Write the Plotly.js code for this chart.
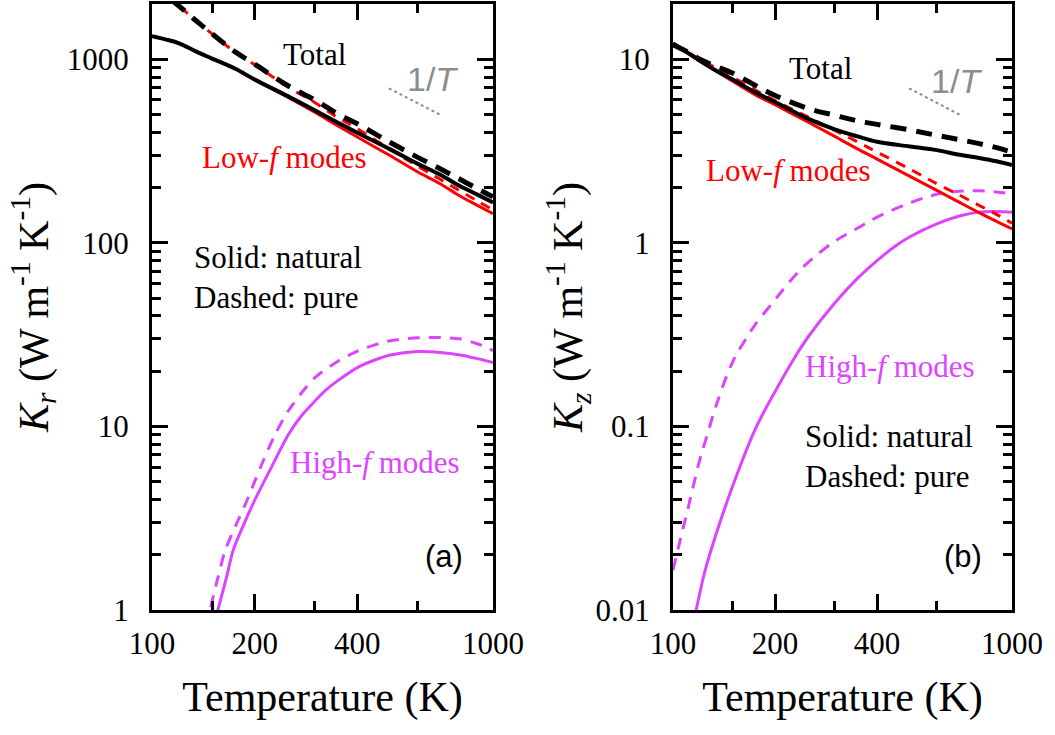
<!DOCTYPE html>
<html>
<head>
<meta charset="utf-8">
<script src="https://cdn.plot.ly/plotly-3.0.1.min.js"></script>
<style>
  html, body { margin: 0; padding: 0; background: #ffffff; }
  #chart { width: 1055px; height: 735px; }
</style>
</head>
<body>
<div id="chart"></div>
<script>
// ---------------- Data: panel (a), K_r ----------------
const T_grid = [100, 110, 120, 135, 150, 175, 200, 250, 300, 350, 400, 500, 600, 700, 800, 900, 1000];

const Kr_total_natural = [1334, 1280, 1222, 1100, 1009, 890, 776, 630, 527, 453, 398, 323, 270, 235, 204, 183, 166];
const Kr_total_pure    = [2550, 2207, 1950, 1616, 1376, 1100, 940, 720, 600, 505, 445, 352, 293, 253, 222, 197, 178];
const Kr_low_natural   = [1334, 1280, 1222, 1100, 1008, 888, 772, 621, 514, 435, 377, 298, 244, 210, 180, 160, 144];
const Kr_low_pure      = [2550, 2207, 1950, 1616, 1375, 1097, 935, 707, 582, 482, 419, 322, 262, 222, 192, 169, 151];

const T_hi_a_nat  = [150, 156, 165, 173, 185, 200, 225, 250, 275, 300, 325, 350, 400, 450, 500, 600, 700, 800, 900, 1000];
const Kr_high_natural = [0.75, 1.0, 1.48, 2.12, 2.87, 3.96, 6.1, 8.9, 11.5, 13.7, 15.9, 17.7, 20.9, 23.0, 24.5, 25.6, 25.3, 24.5, 23.4, 22.3];
const T_hi_a_pure = [140, 148, 156, 164, 177, 190, 200, 212, 230, 250, 275, 300, 350, 400, 450, 500, 600, 700, 800, 900, 1000];
const Kr_high_pure    = [0.62, 1.0, 1.5, 2.12, 2.95, 3.96, 5.0, 6.5, 9.1, 12.0, 15.3, 18.4, 22.6, 25.7, 27.8, 29.3, 30.4, 30.5, 30.0, 28.2, 25.9];

// ---------------- Data: panel (b), K_z ----------------
const Kz_total_natural = [12.2, 10.9, 9.8, 8.6, 7.75, 6.6, 5.85, 4.75, 4.15, 3.8, 3.55, 3.35, 3.2, 3.02, 2.9, 2.78, 2.65];
const Kz_total_pure    = [12.0, 11.0, 10.0, 9.1, 8.4, 7.2, 6.35, 5.4, 4.95, 4.62, 4.42, 4.12, 3.85, 3.65, 3.47, 3.3, 3.12];
const Kz_low_natural   = [12.2, 10.9, 9.8, 8.55, 7.6, 6.4, 5.65, 4.55, 3.8, 3.25, 2.86, 2.3, 1.93, 1.66, 1.46, 1.31, 1.19];
const Kz_low_pure      = [12.0, 11.0, 10.0, 8.9, 8.0, 6.8, 5.95, 4.85, 4.1, 3.55, 3.12, 2.52, 2.1, 1.82, 1.6, 1.43, 1.28];

const T_hi_b_nat  = [112, 117, 124, 135, 151, 175, 202, 232, 250, 300, 350, 400, 450, 500, 600, 700, 800, 900, 1000];
const Kz_high_natural = [0.0072, 0.01, 0.0161, 0.027, 0.049, 0.097, 0.16, 0.248, 0.306, 0.47, 0.64, 0.80, 0.953, 1.08, 1.27, 1.40, 1.47, 1.48, 1.47];
const T_hi_b_pure = [100, 105, 110, 115, 120, 125, 135, 150, 165, 175, 200, 225, 250, 300, 350, 400, 500, 600, 700, 800, 900, 1000];
const Kz_high_pure    = [0.0165, 0.024, 0.034, 0.048, 0.066, 0.085, 0.135, 0.225, 0.305, 0.36, 0.49, 0.64, 0.78, 1.02, 1.2, 1.38, 1.65, 1.84, 1.91, 1.92, 1.89, 1.85];

// 1/T guide segments
const guide_a_T = [495, 704];
const guide_a_K = [695, 496];
const guide_b_T = [497, 703];
const guide_b_K = [6.95, 4.97];

// Tick labels
const xTickVals = [100, 200, 400, 1000];
const xTickText = ["100", "200", "400", "1000"];
const xLongUnlabeled = [800];
const xMinorVals = [150, 300, 600];
const yTickVals_a = [1, 10, 100, 1000];
const yTickText_a = ["1", "10", "100", "1000"];
const yTickVals_b = [0.01, 0.1, 1, 10];
const yTickText_b = ["0.01", "0.1", "1", "10"];

// ---------------- Styles ----------------
const BLACK = "#000000";
const RED = "#ff0000";
const MAG = "#dd44ff";
const GRAY = "#8c8c8c";
const SERIF = "Liberation Serif, Times New Roman, serif";
const SANS = "Liberation Sans, Arial, sans-serif";

function minorLog(lo, hi) {
  const v = [];
  for (let e = lo; e < hi; e++) {
    for (let m = 2; m <= 9; m++) v.push(m * Math.pow(10, e));
  }
  return v;
}

function tr(x, y, color, width, dash, xa, ya, smooth) {
  return {
    x: x, y: y, type: "scatter", mode: "lines",
    line: { color: color, width: width, dash: dash, shape: "spline", smoothing: smooth === undefined ? 1 : smooth },
    xaxis: xa, yaxis: ya, hoverinfo: "skip", showlegend: false
  };
}

const DASH_BLACK = "16px,10px";
const DASH_RED = "10px,8px";
const DASH_MAG = "12px,9px";

const traces = [
  // panel a
  tr(T_hi_a_pure, Kr_high_pure, MAG, 3, DASH_MAG, "x", "y", 0.7),
  tr(T_hi_a_nat, Kr_high_natural, MAG, 3, "solid", "x", "y", 0.7),
  tr(T_grid, Kr_low_natural, RED, 3, "solid", "x", "y"),
  tr(T_grid, Kr_low_pure, RED, 3, DASH_RED, "x", "y"),
  tr(T_grid, Kr_total_natural, BLACK, 4, "solid", "x", "y"),
  tr(T_grid, Kr_total_pure, BLACK, 5, DASH_BLACK, "x", "y"),
  { x: guide_a_T, y: guide_a_K, type: "scatter", mode: "lines",
    line: { color: GRAY, width: 2, dash: "3px,3px" }, xaxis: "x", yaxis: "y", hoverinfo: "skip", showlegend: false },
  // panel b
  tr(T_hi_b_pure, Kz_high_pure, MAG, 3, DASH_MAG, "x2", "y2"),
  tr(T_hi_b_nat, Kz_high_natural, MAG, 3, "solid", "x2", "y2"),
  tr(T_grid, Kz_low_natural, RED, 3, "solid", "x2", "y2"),
  tr(T_grid, Kz_low_pure, RED, 3, DASH_RED, "x2", "y2"),
  tr(T_grid, Kz_total_natural, BLACK, 4, "solid", "x2", "y2"),
  tr(T_grid, Kz_total_pure, BLACK, 5, DASH_BLACK, "x2", "y2"),
  { x: guide_b_T, y: guide_b_K, type: "scatter", mode: "lines",
    line: { color: GRAY, width: 2, dash: "3px,3px" }, xaxis: "x2", yaxis: "y2", hoverinfo: "skip", showlegend: false }
];

function xaxisDef(domain, anchor) {
  return {
    type: "log", domain: domain, anchor: anchor,
    range: [2, 3],
    showgrid: false, zeroline: false,
    showline: true, linecolor: BLACK, linewidth: 3, mirror: "allticks",
    ticks: "inside", ticklen: 16, tickwidth: 3, tickcolor: BLACK,
    tickmode: "array", tickvals: xTickVals, ticktext: xTickText,
    minor: { tickmode: "array", tickvals: xMinorVals, ticks: "inside", ticklen: 9, tickwidth: 3, tickcolor: BLACK, showgrid: false },
    tickfont: { family: SERIF, size: 31, color: BLACK },
    ticklabelstandoff: 4,
    title: { text: "Temperature (K)", font: { family: SERIF, size: 42, color: BLACK }, standoff: 22 },
    fixedrange: true
  };
}

// extra overlay axis carrying only the long unlabeled tick at 800 K
function xLongTickAxis(over, anchor) {
  return {
    type: "log", overlaying: over, anchor: anchor, range: [2, 3],
    showgrid: false, zeroline: false, showline: false, mirror: "allticks",
    ticks: "inside", ticklen: 16, tickwidth: 3, tickcolor: BLACK,
    tickmode: "array", tickvals: xLongUnlabeled, showticklabels: false,
    fixedrange: true
  };
}

function yaxisDef(range, tv, tt, lo, hi, titleText, anchor, standoff) {
  return {
    type: "log", domain: [0, 1], anchor: anchor,
    range: range,
    showgrid: false, zeroline: false,
    showline: true, linecolor: BLACK, linewidth: 3, mirror: "allticks",
    ticks: "inside", ticklen: 16, tickwidth: 3, tickcolor: BLACK,
    tickmode: "array", tickvals: tv, ticktext: tt,
    minor: { tickmode: "array", tickvals: minorLog(lo, hi), ticks: "inside", ticklen: 9, tickwidth: 3, tickcolor: BLACK, showgrid: false },
    tickfont: { family: SERIF, size: 31, color: BLACK },
    ticklabelstandoff: 14,
    title: { text: titleText, font: { family: SERIF, size: 42, color: BLACK }, standoff: standoff },
    fixedrange: true
  };
}

function ann(xref, yref, x, y, text, color, family, size, xanchor) {
  return {
    xref: xref, yref: yref, x: x, y: y, text: text, showarrow: false,
    font: { family: family, size: size, color: color },
    xanchor: xanchor || "center", yanchor: "middle"
  };
}

const annotations = [
  // panel a
  ann("x domain", "y domain", 0.478, 0.916, "Total", BLACK, SERIF, 31),
  ann("x domain", "y domain", 0.823, 0.877, "1/<i>T</i>", GRAY, SANS, 34),
  ann("x domain", "y domain", 0.386, 0.746, "Low-<i>f</i> modes", RED, SERIF, 31),
  ann("x domain", "y domain", 0.117, 0.5825, "Solid: natural", BLACK, SERIF, 31, "left"),
  ann("x domain", "y domain", 0.117, 0.5165, "Dashed: pure", BLACK, SERIF, 31, "left"),
  ann("x domain", "y domain", 0.655, 0.2426, "High-<i>f</i> modes", MAG, SERIF, 31),
  ann("x domain", "y domain", 0.856, 0.0875, "(a)", BLACK, SANS, 31),
  // panel b
  ann("x2 domain", "y2 domain", 0.434, 0.894, "Total", BLACK, SERIF, 31),
  ann("x2 domain", "y2 domain", 0.835, 0.873, "1/<i>T</i>", GRAY, SANS, 34),
  ann("x2 domain", "y2 domain", 0.338, 0.726, "Low-<i>f</i> modes", RED, SERIF, 31),
  ann("x2 domain", "y2 domain", 0.641, 0.401, "High-<i>f</i> modes", MAG, SERIF, 31),
  ann("x2 domain", "y2 domain", 0.3835, 0.2855, "Solid: natural", BLACK, SERIF, 31, "left"),
  ann("x2 domain", "y2 domain", 0.3835, 0.2195, "Dashed: pure", BLACK, SERIF, 31, "left"),
  ann("x2 domain", "y2 domain", 0.855, 0.0875, "(b)", BLACK, SANS, 31)
];

const layout = {
  width: 1055, height: 735,
  margin: { l: 0, r: 0, t: 4, b: 125, pad: 0 },
  paper_bgcolor: "#ffffff", plot_bgcolor: "#ffffff",
  showlegend: false,
  xaxis: xaxisDef([152 / 1055, 493 / 1055], "y"),
  yaxis: yaxisDef([0, Math.log10(2000)], yTickVals_a, yTickText_a, 0, 4,
    "<i>K</i><sub><i>r</i></sub> (W m<sup>-1</sup> K<sup>-1</sup>)", "x", 6),
  xaxis2: xaxisDef([673 / 1055, 1012 / 1055], "y2"),
  yaxis2: yaxisDef([-2, Math.log10(20)], yTickVals_b, yTickText_b, -2, 2,
    "<i>K</i><sub><i>z</i></sub> (W m<sup>-1</sup> K<sup>-1</sup>)", "x2", 0),
  xaxis3: xLongTickAxis("x", "y"),
  xaxis4: xLongTickAxis("x2", "y2"),
  annotations: annotations
};

Plotly.newPlot("chart", traces, layout, { staticPlot: true, displayModeBar: false });
</script>
</body>
</html>
